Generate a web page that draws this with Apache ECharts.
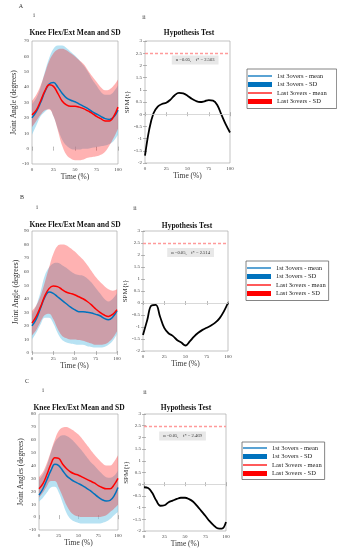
<!DOCTYPE html>
<html><head><meta charset="utf-8">
<script src="https://cdn.jsdelivr.net/npm/echarts@6/dist/echarts.min.js"></script>
<style>html,body{margin:0;padding:0;background:#fff}#c{width:337px;height:550px}</style>
</head><body><div id="c"></div>
<script>
const timePct = [0,5,10,15,20,25,30,35,40,45,50,55,60,65,70,75,80,85,90,95,100];

// Panel A
const aBlueMean  = [20, 24, 30, 37, 42, 43, 40, 36, 33, 31.5, 30.5, 29, 27.5, 26, 24, 22.5, 21, 19.5, 19, 20.5, 25];
const aRedMean   = [22, 25, 31, 37.5, 41.5, 40.5, 36, 31, 28.5, 27.5, 27.5, 27, 26, 24.5, 23, 21, 19.5, 18, 18, 21, 27];
const aBlueUpper = [29, 33, 40, 50, 59, 65, 67, 67, 65.5, 63, 60.5, 57.5, 54, 50, 45, 41, 37, 35, 35, 37, 41];
const aBlueLower = [9, 15, 21, 24, 26, 21, 13, 6, 2, 0, -0.5, -0.5, 0, 0, 0.5, 1, 1.5, 2, 3, 5, 9];
const aRedUpper  = [31, 35, 41, 49, 57, 62, 64.5, 65, 64, 62, 60, 57.5, 55, 51, 47, 43.5, 40, 38, 38.5, 41, 45];
const aRedLower  = [14, 18, 22, 25, 25.5, 21, 12, 2, -4, -6.5, -7.5, -7.5, -7, -6, -5.5, -5, -4, -2, 2, 7, 13];
const aSpm       = [-1.7, -0.62, 0.04, 0.31, 0.42, 0.47, 0.6, 0.78, 0.87, 0.85, 0.76, 0.63, 0.54, 0.5, 0.53, 0.58, 0.56, 0.38, -0.03, -0.42, -0.75];
const aThreshold = 2.503;

// Panel B
const bBlueMean  = [20, 25, 33, 41, 45, 44, 41.5, 39, 36.5, 34, 32, 30.5, 30.5, 30, 29.5, 28.5, 27.5, 25.5, 24.5, 26.5, 31];
const bRedMean   = [22, 27, 34, 42, 47.5, 49.5, 49, 47, 45, 44, 43, 41.5, 40, 38, 35.5, 32.5, 30, 28, 27, 28.5, 32];
const bBlueUpper = [28, 35, 45, 57, 63, 66, 66.5, 65, 63, 60.5, 58.5, 57.5, 57, 55, 52, 48, 44, 40, 38, 40, 44];
const bBlueLower = [10, 15, 21, 26, 26, 22, 15, 10, 8, 7, 6.5, 6, 6, 5, 4.5, 4, 4, 4.5, 6, 9, 14];
const bRedUpper  = [31, 35, 42, 52, 63, 73, 79, 80, 79.5, 77.5, 75, 72, 69, 65, 60.5, 56, 52.5, 49.5, 47, 46, 47];
const bRedLower  = [13, 17, 23, 28, 29, 25, 18, 13, 11, 10, 10, 9.5, 9, 8, 7, 6, 6, 6.5, 8, 11, 16];
const bSpm       = [-1.33, -0.71, -0.1, -0.08, -0.56, -1.04, -1.26, -1.37, -1.54, -1.65, -1.77, -1.6, -1.4, -1.24, -1.12, -1.03, -0.94, -0.82, -0.64, -0.36, 0.01];
const bThreshold = 2.514;

// Panel C
const cBlueMean  = [17, 22, 29, 36, 41, 40, 36, 32, 29.5, 27.5, 26, 24.5, 22.5, 20.5, 18, 15.5, 13.5, 12.5, 13, 16.5, 23];
const cRedMean   = [22, 26, 33, 41, 46, 45.5, 41, 37.5, 35, 33.5, 32.5, 31, 29.5, 28, 26.5, 24.5, 23, 22, 22, 25, 30];
const cBlueUpper = [29, 33, 40, 50, 58, 62, 63.5, 63, 61, 58, 54.5, 51, 47, 43, 40, 36.5, 33.5, 31, 30.5, 32, 36];
const cBlueLower = [12, 15, 19, 23, 23.5, 19, 11, 3, -1.5, -3.5, -4.5, -5, -5, -5, -5, -5, -4.5, -3.5, -1.5, 1.5, 4];
const cRedUpper  = [31, 35, 42, 51, 60, 67, 69.5, 70, 68.5, 66.5, 64, 60.5, 56.5, 52.5, 48.5, 45, 42, 40, 40, 43, 48];
const cRedLower  = [15, 19, 24, 28, 28, 23, 16, 9, 4, 1.5, 0.5, 0, 0, 0, 0, 0, 0.5, 1.5, 4, 6.5, 9.5];
const cSpm       = [-0.13, -0.16, -0.37, -0.7, -0.92, -0.9, -0.77, -0.7, -0.63, -0.58, -0.58, -0.64, -0.75, -0.94, -1.15, -1.36, -1.58, -1.76, -1.89, -1.9, -1.62];
const cThreshold = 2.469;

const legendNames = ['1st 3overs - mean', '1st 3overs - SD', 'Last 3overs - mean', 'Last 3overs - SD'];
const panelLetters = ['A', 'B', 'C'];
const angleTitle = 'Knee Flex/Ext Mean and SD';
const spmTitle = 'Hypothesis Test';
const angleYNames = ['Joint Angle (degrees)', 'Joint Angle (degrees)', 'Joint Angles (degrees)'];
const spmYName = 'SPM{t}';
const xName = 'Time (%)';
const alphaText = 'α =0.05,    t* = ';

const FONT = 'Liberation Serif';
const BLUE = '#0072BD', RED = '#FF0000';
const BLUE_BAND = 'rgb(135,206,235)', RED_BAND = 'rgb(255,0,0)';

const panels = [
  {bm:aBlueMean, rm:aRedMean, bu:aBlueUpper, bl:aBlueLower, ru:aRedUpper, rl:aRedLower, spm:aSpm, th:aThreshold,
   yMin:-10, yMax:70,
   gA:{left:32, top:41, width:86, height:123}, gS:{left:145, top:41, width:85, height:122},
   nGapX:9, nGapYA:14, nGapYS:10, box:[59, 2.22],
   legend:{left:247, top:69, pad:[3, 10, 3, 1]},
   titles:[[75, 33], [189, 33]], letter:[21, 6], li:[34, 15], lii:[144, 17]},
  {bm:bBlueMean, rm:bRedMean, bu:bBlueUpper, bl:bBlueLower, ru:bRedUpper, rl:bRedLower, spm:bSpm, th:bThreshold,
   yMin:0, yMax:90,
   gA:{left:32, top:231, width:85, height:122}, gS:{left:143, top:231, width:85, height:120},
   nGapX:7, nGapYA:9, nGapYS:12, box:[56, 2.1],
   legend:{left:246, top:261, pad:[3, 3, 3, 1]},
   titles:[[75, 225], [187, 226]], letter:[22, 197], li:[37, 207], lii:[135, 208]},
  {bm:cBlueMean, rm:cRedMean, bu:cBlueUpper, bl:cBlueLower, ru:cRedUpper, rl:cRedLower, spm:cSpm, th:cThreshold,
   yMin:-10, yMax:80,
   gA:{left:39, top:414, width:79, height:116}, gS:{left:144, top:414, width:82, height:117},
   nGapX:8, nGapYA:12, nGapYS:12, box:[47, 2.06],
   legend:{left:242, top:442, pad:[2, 3, 2, 1]},
   titles:[[79, 408], [186, 408]], letter:[27, 381], li:[43, 390], lii:[145, 392]}
];

function pairs(ys) { return timePct.map((x, i) => [x, ys[i]]); }
function diff(u, l) { return u.map((v, i) => v - l[i]); }

const grids = [], xAxes = [], yAxes = [], series = [], legends = [], graphics = [];
const tickStyle = {inside:true, length:2, lineStyle:{color:'#888', width:0.6}};
const labelStyle = {fontFamily:FONT, fontSize:5, color:'#444', margin:3};
const nameStyle = {fontFamily:FONT, fontSize:7.5, color:'#333'};
const everyFifth = (i) => i % 5 === 0;

function addGrid(g, yMin, yMax, yInt, yName, nGapY, nGapX, categorical) {
  const gi = grids.length;
  grids.push(Object.assign({show:true, borderColor:'#aaa', borderWidth:0.7, backgroundColor:'transparent', containLabel:false, outerBoundsMode:'none'}, g));
  const xBase = categorical
    ? {type:'category', data:timePct.map(String), boundaryGap:false}
    : {type:'value', min:0, max:100, interval:25};
  xAxes.push(Object.assign({gridIndex:gi, position:'bottom',
    name:xName, nameLocation:'middle', nameGap:nGapX, nameTextStyle:nameStyle,
    axisLine:{show:false}, axisTick:Object.assign({}, tickStyle, categorical ? {interval:everyFifth} : {}),
    axisLabel:Object.assign({}, labelStyle, categorical ? {interval:everyFifth} : {}), splitLine:{show:false}}, xBase));
  xAxes.push(Object.assign({gridIndex:gi, position:'top',
    axisLine:{show:false}, axisTick:Object.assign({}, tickStyle, categorical ? {interval:everyFifth} : {}),
    axisLabel:{show:false}, splitLine:{show:false}}, xBase));
  yAxes.push({gridIndex:gi, type:'value', min:yMin, max:yMax, interval:yInt, position:'left',
    name:yName, nameLocation:'middle', nameGap:nGapY, nameTextStyle:Object.assign({}, nameStyle, {fontSize: yName === spmYName ? 7 : 7.5}),
    axisLine:{show:false}, axisTick:tickStyle, axisLabel:labelStyle, splitLine:{show:false}});
  yAxes.push({gridIndex:gi, type:'value', min:yMin, max:yMax, interval:yInt, position:'right',
    axisLine:{show:false}, axisTick:tickStyle, axisLabel:{show:false}, splitLine:{show:false}});
  return 2 * gi;
}

panels.forEach((p, k) => {
  const ai = addGrid(p.gA, p.yMin, p.yMax, 10, angleYNames[k], p.nGapYA, p.nGapX, true);
  const common = {type:'line', xAxisIndex:ai, yAxisIndex:ai, smooth:0.4, symbol:'none', showSymbol:false, animation:false};
  series.push(Object.assign({}, common, {name:'bl'+k, data:p.bl, stack:'b'+k, stackStrategy:'all', lineStyle:{opacity:0}, silent:true}));
  series.push(Object.assign({}, common, {name:legendNames[1], data:diff(p.bu, p.bl), stack:'b'+k, stackStrategy:'all',
    lineStyle:{opacity:0}, areaStyle:{color:BLUE_BAND, opacity:0.6}, itemStyle:{color:BLUE}}));
  series.push(Object.assign({}, common, {name:legendNames[0], data:p.bm, lineStyle:{color:BLUE, width:1.5}, itemStyle:{color:BLUE}}));
  series.push(Object.assign({}, common, {name:'rl'+k, data:p.rl, stack:'r'+k, stackStrategy:'all', lineStyle:{opacity:0}, silent:true}));
  series.push(Object.assign({}, common, {name:legendNames[3], data:diff(p.ru, p.rl), stack:'r'+k, stackStrategy:'all',
    lineStyle:{opacity:0}, areaStyle:{color:RED_BAND, opacity:0.3}, itemStyle:{color:RED}}));
  series.push(Object.assign({}, common, {name:legendNames[2], data:p.rm, lineStyle:{color:RED, width:1.5}, itemStyle:{color:RED}}));

  const si = addGrid(p.gS, -2, 3, 0.5, spmYName, p.nGapYS, p.nGapX, false);
  series.push({type:'line', name:'spm'+k, xAxisIndex:si, yAxisIndex:si, data:pairs(p.spm), smooth:0.4, symbol:'none', animation:false,
    lineStyle:{color:'#000', width:1.8}, itemStyle:{color:'#000'},
    markLine:{silent:true, symbol:['none','none'], label:{show:false}, animation:false,
      data:[{yAxis:0, lineStyle:{type:'solid', color:'#cfcfcf', width:0.8}},
            {yAxis:p.th, lineStyle:{type:[3,2], color:'#ff9a9a', width:1.4}}]},
    markPoint:{silent:true, animation:false, symbol:'rect', symbolSize:1, itemStyle:{color:'rgba(0,0,0,0)'},
      data:[{coord:p.box, label:{show:true, position:'inside', formatter:alphaText + p.th.toFixed(3),
        backgroundColor:'#e8e8e8', padding:[2,4], fontSize:4.6, fontFamily:FONT, color:'#333'}}]}
  });

  legends.push({orient:'vertical', left:p.legend.left, top:p.legend.top, itemWidth:24, itemHeight:5, itemGap:0.5,
    padding:p.legend.pad, borderColor:'#666', borderWidth:0.8, backgroundColor:'#fff', selectedMode:false,
    textStyle:{fontFamily:FONT, fontSize:6.5, color:'#222', lineHeight:8},
    data:[
      {name:legendNames[0], icon:'path://M0,0h24v1.3h-24z', itemStyle:{color:BLUE, borderWidth:0}},
      {name:legendNames[1], icon:'rect', itemStyle:{color:BLUE, opacity:1, borderWidth:0}},
      {name:legendNames[2], icon:'path://M0,0h24v1.3h-24z', itemStyle:{color:RED, borderWidth:0}},
      {name:legendNames[3], icon:'rect', itemStyle:{color:RED, opacity:1, borderWidth:0}}
    ]});

  p.titles.forEach((t, j) => graphics.push({type:'text', x:t[0], y:t[1], silent:true,
    style:{text: j === 0 ? angleTitle : spmTitle, font:'bold 7.5px "' + FONT + '"', fill:'#111', align:'center', verticalAlign:'middle'}}));
  graphics.push({type:'text', x:p.letter[0], y:p.letter[1], silent:true, style:{text:panelLetters[k], font:'6px "' + FONT + '"', fill:'#333', align:'center', verticalAlign:'middle'}});
  graphics.push({type:'text', x:p.li[0], y:p.li[1], silent:true, style:{text:'i', font:'6px "' + FONT + '"', fill:'#333', align:'center', verticalAlign:'middle'}});
  graphics.push({type:'text', x:p.lii[0], y:p.lii[1], silent:true, style:{text:'ii', font:'6px "' + FONT + '"', fill:'#333', align:'center', verticalAlign:'middle'}});
});

const chart = echarts.init(document.getElementById('c'), null, {renderer:'canvas'});
chart.setOption({
  animation:false,
  backgroundColor:'#fff',
  grid:grids, xAxis:xAxes, yAxis:yAxes, series:series, legend:legends, graphic:graphics
});
</script>
</body></html>
